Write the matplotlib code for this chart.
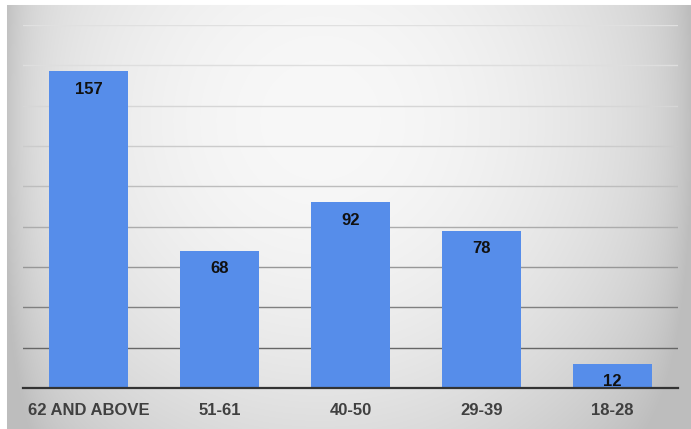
import numpy as np
import matplotlib
matplotlib.use("Agg")
import matplotlib.pyplot as plt

# age groups and counts
groups = ["62 AND ABOVE", "51-61", "40-50", "29-39", "18-28"]
counts = [157, 68, 92, 78, 12]
y_ticks = [20, 40, 60, 80, 100, 120, 140, 160, 180]

plt.rcParams['font.family'] = ['Liberation Sans', 'DejaVu Sans']

W, H = 691, 429
fig = plt.figure(figsize=(W / 100, H / 100), dpi=100)

# soft vignette background, brightest around the upper middle
bg = fig.add_axes([0, 0, 1, 1])
yy, xx = np.mgrid[0:H, 0:W].astype(float)
d2 = ((xx - 320) / 380.0) ** 2 + ((yy - 120) / 380.0) ** 2
shade = (248 - 40 * d2
         - 24 * np.exp(-(xx - 7) / 22.0)
         - 20 * np.exp(-(W - xx) / 22.0))
shade = np.clip(shade, 190, 250) / 255.0
img = np.dstack([shade, shade, shade])
img[:5, :, :] = 1.0
img[:, :7, :] = 1.0
bg.imshow(img, aspect='auto', extent=[0, 1, 0, 1], origin='upper')
bg.axis('off')

ax = fig.add_axes([23 / W, 41 / H, 655 / W, 363 / H])
ax.patch.set_alpha(0)

x = np.arange(len(groups))
bars = ax.bar(x, counts, width=0.6, color='#568dea', zorder=3)

ax.set_xlim(-0.5, len(groups) - 0.5)
ax.set_ylim(0, 180)
ax.set_yticks(y_ticks)
ax.yaxis.grid(True, linewidth=1.0, zorder=1)
# gridlines fade out towards the top
for val, gl in zip(y_ticks, ax.get_ygridlines()):
    g = 0.88 - 0.48 * ((180 - val) / 160) ** 1.8
    gl.set_color((g, g, g))
ax.tick_params(axis='y', left=False, labelleft=False)

for s in ['top', 'right', 'left']:
    ax.spines[s].set_visible(False)
ax.spines['bottom'].set_color('#333333')
ax.spines['bottom'].set_linewidth(1.6)
ax.spines['bottom'].set_zorder(4)

ax.set_xticks(x)
ax.set_xticklabels(groups, fontsize=12, fontweight='bold', color='#404040')
ax.tick_params(axis='x', length=0, pad=10.5)

for b, v in zip(bars, counts):
    ax.annotate(str(v), (b.get_x() + b.get_width() / 2, v),
                xytext=(0, -13), textcoords='offset points',
                ha='center', va='center', fontsize=12, fontweight='bold',
                color='#111111', zorder=5)

fig.savefig('out.png', dpi=100)
